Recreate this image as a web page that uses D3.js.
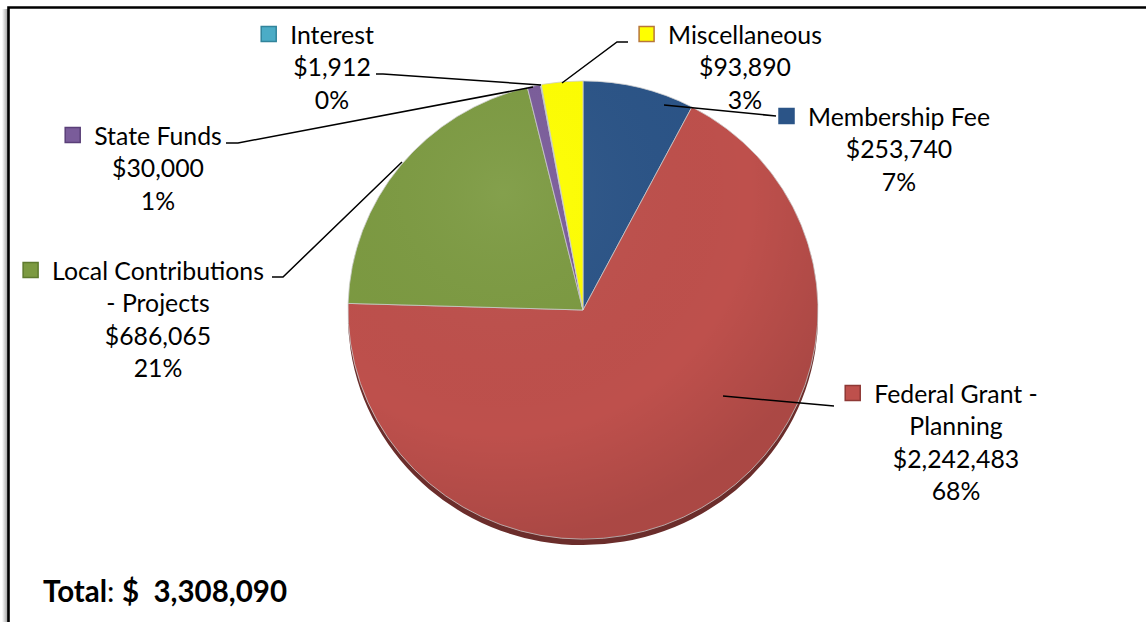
<!DOCTYPE html>
<html>
<head>
<meta charset="utf-8">
<script src="https://cdn.jsdelivr.net/npm/d3@7/dist/d3.min.js"></script>
<style>
  html, body { margin: 0; padding: 0; background: #fff; }
  svg { display: block; }
  text { font-family: Lato, "Open Sans", sans-serif; fill: #000; }
</style>
</head>
<body>
<script>
// ---- data ----
const categories = ["Membership Fee", "Federal Grant -\nPlanning", "Local Contributions\n- Projects", "State Funds", "Interest", "Miscellaneous"];
const values = [253740, 2242483, 686065, 30000, 1912, 93890];
const pctLabels = ["7%", "68%", "21%", "1%", "0%", "3%"];
const totalLabel = "3,308,090";

// ---- styles / layout (not data) ----
const colors = ["#2B5487", "#BE504C", "#7C9A41", "#7A5C9A", "#4BACC6", "#FFFF00"];
const keyStroke = ["#2B5487", "#8E3835", "#5E7A2E", "#5A3F78", "#31849B", "#B7763A"];
const labelLayout = [
  { cx: 899, y0: 116, leader: [[664,105],[776,116]] },
  { cx: 956, y0: 393, leader: [[723,396],[834,406]] },
  { cx: 158, y0: 270, leader: [[402,162],[283,277],[272,277]] },
  { cx: 158, y0: 135, leader: [[533,87],[238,143],[226,143]] },
  { cx: 332, y0: 34,  leader: [[541,85],[383,74],[376,74]] },
  { cx: 745, y0: 34,  leader: [[562,83],[617,42],[628,42]] }
];

const W = 1146, H = 622;
const cx = 583, cy = 310, R = 235, sy = 0.975;

const svg = d3.select("body").append("svg").attr("width", W).attr("height", H);
const defs = svg.append("defs");

const sg = defs.append("linearGradient").attr("id", "lshadow").attr("x1", 0).attr("x2", 1);
sg.append("stop").attr("offset", 0).attr("stop-color", "#fff");
sg.append("stop").attr("offset", 1).attr("stop-color", "#9a9a9a");
svg.append("rect").attr("x", 2).attr("y", 9).attr("width", 6).attr("height", H).attr("fill", "url(#lshadow)");

svg.append("path").attr("d", `M8.5,${H} L8.5,7.5 L${W},7.5`).attr("fill", "none").attr("stroke", "#000").attr("stroke-width", 2.6);

const rg = defs.append("radialGradient").attr("id", "shade").attr("gradientUnits", "userSpaceOnUse")
  .attr("cx", -80).attr("cy", -120).attr("r", R * 1.5);
rg.append("stop").attr("offset", 0).attr("stop-color", "#fff").attr("stop-opacity", 0.06);
rg.append("stop").attr("offset", 0.7).attr("stop-color", "#000").attr("stop-opacity", 0.0);
rg.append("stop").attr("offset", 1).attr("stop-color", "#000").attr("stop-opacity", 0.10);

const pie = d3.pie().sort(null).value(d => d).startAngle(0).endAngle(2 * Math.PI);
const arcs = pie(values);
const arc = d3.arc().innerRadius(0).outerRadius(R);

const sideG = svg.append("g").attr("transform", `translate(${cx},${cy + 6}) scale(1,${sy})`);
sideG.selectAll("path").data(arcs).join("path")
  .attr("d", arc)
  .attr("fill", (d, i) => d3.color(colors[i]).darker(1.6));

const topG = svg.append("g").attr("transform", `translate(${cx},${cy}) scale(1,${sy})`);
topG.selectAll("path.slice").data(arcs).join("path")
  .attr("class", "slice")
  .attr("d", arc)
  .attr("fill", (d, i) => colors[i])
  .attr("stroke", "#d0d0d0")
  .attr("stroke-width", 0.8)
  .attr("stroke-linejoin", "round");
topG.append("circle").attr("r", R).attr("fill", "url(#shade)").attr("pointer-events", "none");

const line = d3.line();
svg.append("g").selectAll("path").data(labelLayout).join("path")
  .attr("d", d => line(d.leader))
  .attr("fill", "none").attr("stroke", "#000").attr("stroke-width", 1.5);

const fmt = d3.format(",");
const lineH = 32.6;
const FS = 24.8;
const lg = svg.append("g");
arcs.forEach((a, i) => {
  const L = labelLayout[i];
  const lines = categories[i].split("\n").concat(["$" + fmt(values[i]), pctLabels[i]]);
  let firstW = 0;
  lines.forEach((t, j) => {
    const el = lg.append("text")
      .attr("x", L.cx).attr("y", L.y0 + j * lineH)
      .attr("text-anchor", "middle").attr("dominant-baseline", "central")
      .attr("font-size", FS).text(t);
    if (j === 0) firstW = el.node().getComputedTextLength();
  });
  const ks = 15;
  lg.append("rect")
    .attr("x", L.cx - firstW / 2 - 14 - ks).attr("y", L.y0 - ks / 2)
    .attr("width", ks).attr("height", ks)
    .attr("fill", colors[i]).attr("stroke", keyStroke[i]).attr("stroke-width", 1.5);
});

const tt = svg.append("text").attr("x", 43).attr("y", 590).attr("dominant-baseline", "central")
  .attr("font-size", 29.5).attr("font-weight", "bold");
tt.append("tspan").text("Total");
tt.append("tspan").attr("font-weight", "normal").text(": ");
tt.append("tspan").style("white-space", "pre").text("$  " + totalLabel);
</script>
</body>
</html>
